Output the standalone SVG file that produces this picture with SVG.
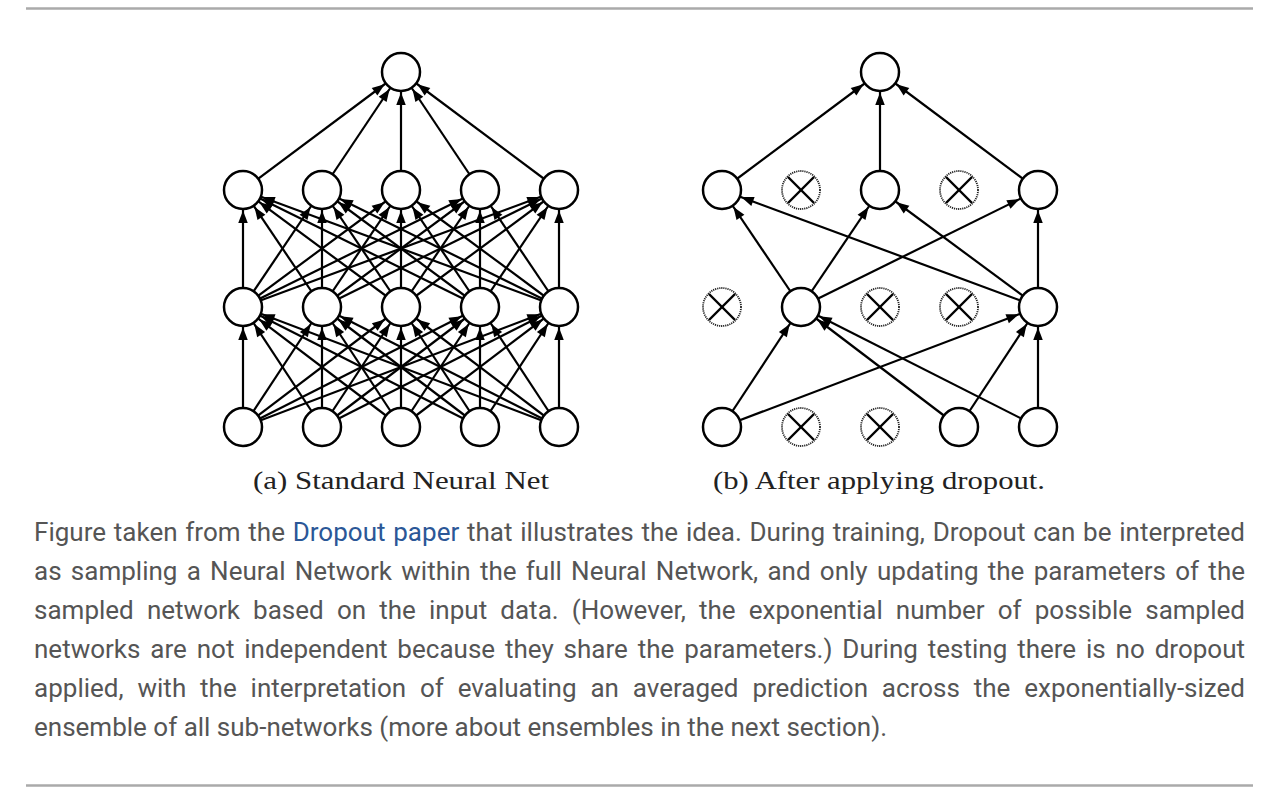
<svg xmlns="http://www.w3.org/2000/svg" width="1283" height="803" viewBox="0 0 1283 803">
<style>
.e{stroke:#000;stroke-width:2.2;fill:none;marker-end:url(#ah)}
.n{fill:#fff;stroke:#000;stroke-width:2.5}
.d{fill:#fff;stroke:#222;stroke-width:1.8;stroke-dasharray:1.2 0.9}
.x{stroke:#000;stroke-width:2.4}
.cap{font-family:"Liberation Serif","DejaVu Serif",serif;font-size:26px;fill:#222}
.p{font-family:Roboto,"Noto Sans",sans-serif;font-size:26px;fill:#555}
.rule{stroke:#aaa;stroke-width:2.5}
</style>
<defs>
<marker id="ah" markerUnits="userSpaceOnUse" markerWidth="13" markerHeight="10" refX="33" refY="4.75" orient="auto" overflow="visible">
<path d="M0,0 L12.5,4.75 L0,9.5 z" fill="#000"/>
</marker>
<g id="dx"><circle class="d" r="19"/><line class="x" x1="-13" y1="-13" x2="13" y2="13"/><line class="x" x1="-13" y1="13" x2="13" y2="-13"/></g>
</defs>
<rect width="1283" height="803" fill="#fff"/>
<line class="rule" x1="26" y1="8.5" x2="1253" y2="8.5"/>
<line class="rule" x1="26" y1="785.5" x2="1253" y2="785.5"/>

<g id="connectors-a">
<line class="e" x1="243" y1="427" x2="243" y2="307"/><line class="e" x1="243" y1="427" x2="322" y2="307"/><line class="e" x1="243" y1="427" x2="401" y2="307"/><line class="e" x1="243" y1="427" x2="480" y2="307"/><line class="e" x1="243" y1="427" x2="559" y2="307"/>
<line class="e" x1="322" y1="427" x2="243" y2="307"/><line class="e" x1="322" y1="427" x2="322" y2="307"/><line class="e" x1="322" y1="427" x2="401" y2="307"/><line class="e" x1="322" y1="427" x2="480" y2="307"/><line class="e" x1="322" y1="427" x2="559" y2="307"/>
<line class="e" x1="401" y1="427" x2="243" y2="307"/><line class="e" x1="401" y1="427" x2="322" y2="307"/><line class="e" x1="401" y1="427" x2="401" y2="307"/><line class="e" x1="401" y1="427" x2="480" y2="307"/><line class="e" x1="401" y1="427" x2="559" y2="307"/>
<line class="e" x1="480" y1="427" x2="243" y2="307"/><line class="e" x1="480" y1="427" x2="322" y2="307"/><line class="e" x1="480" y1="427" x2="401" y2="307"/><line class="e" x1="480" y1="427" x2="480" y2="307"/><line class="e" x1="480" y1="427" x2="559" y2="307"/>
<line class="e" x1="559" y1="427" x2="243" y2="307"/><line class="e" x1="559" y1="427" x2="322" y2="307"/><line class="e" x1="559" y1="427" x2="401" y2="307"/><line class="e" x1="559" y1="427" x2="480" y2="307"/><line class="e" x1="559" y1="427" x2="559" y2="307"/>
<line class="e" x1="243" y1="307" x2="243" y2="190"/><line class="e" x1="243" y1="307" x2="322" y2="190"/><line class="e" x1="243" y1="307" x2="401" y2="190"/><line class="e" x1="243" y1="307" x2="480" y2="190"/><line class="e" x1="243" y1="307" x2="559" y2="190"/>
<line class="e" x1="322" y1="307" x2="243" y2="190"/><line class="e" x1="322" y1="307" x2="322" y2="190"/><line class="e" x1="322" y1="307" x2="401" y2="190"/><line class="e" x1="322" y1="307" x2="480" y2="190"/><line class="e" x1="322" y1="307" x2="559" y2="190"/>
<line class="e" x1="401" y1="307" x2="243" y2="190"/><line class="e" x1="401" y1="307" x2="322" y2="190"/><line class="e" x1="401" y1="307" x2="401" y2="190"/><line class="e" x1="401" y1="307" x2="480" y2="190"/><line class="e" x1="401" y1="307" x2="559" y2="190"/>
<line class="e" x1="480" y1="307" x2="243" y2="190"/><line class="e" x1="480" y1="307" x2="322" y2="190"/><line class="e" x1="480" y1="307" x2="401" y2="190"/><line class="e" x1="480" y1="307" x2="480" y2="190"/><line class="e" x1="480" y1="307" x2="559" y2="190"/>
<line class="e" x1="559" y1="307" x2="243" y2="190"/><line class="e" x1="559" y1="307" x2="322" y2="190"/><line class="e" x1="559" y1="307" x2="401" y2="190"/><line class="e" x1="559" y1="307" x2="480" y2="190"/><line class="e" x1="559" y1="307" x2="559" y2="190"/>
<line class="e" x1="243" y1="190" x2="401" y2="72"/><line class="e" x1="322" y1="190" x2="401" y2="72"/><line class="e" x1="401" y1="190" x2="401" y2="72"/><line class="e" x1="480" y1="190" x2="401" y2="72"/><line class="e" x1="559" y1="190" x2="401" y2="72"/>
</g>

<g id="connectors-b">
<line class="e" x1="722" y1="190" x2="880" y2="72"/><line class="e" x1="880" y1="190" x2="880" y2="72"/><line class="e" x1="1038" y1="190" x2="880" y2="72"/>
<line class="e" x1="801" y1="307" x2="722" y2="190"/><line class="e" x1="801" y1="307" x2="880" y2="190"/><line class="e" x1="801" y1="307" x2="1038" y2="190"/>
<line class="e" x1="1038" y1="307" x2="722" y2="190"/><line class="e" x1="1038" y1="307" x2="880" y2="190"/><line class="e" x1="1038" y1="307" x2="1038" y2="190"/>
<line class="e" x1="722" y1="427" x2="801" y2="307"/><line class="e" x1="722" y1="427" x2="1038" y2="307"/>
<line class="e" x1="959" y1="427" x2="801" y2="307"/><line class="e" x1="959" y1="427" x2="1038" y2="307"/>
<line class="e" x1="1038" y1="427" x2="801" y2="307"/><line class="e" x1="1038" y1="427" x2="1038" y2="307"/>
</g>

<g id="net-a">
<g id="a-out"><circle class="n" cx="401" cy="72" r="19"/></g>
<g id="a-h2"><circle class="n" cx="243" cy="190" r="19"/><circle class="n" cx="322" cy="190" r="19"/><circle class="n" cx="401" cy="190" r="19"/><circle class="n" cx="480" cy="190" r="19"/><circle class="n" cx="559" cy="190" r="19"/></g>
<g id="a-h1"><circle class="n" cx="243" cy="307" r="19"/><circle class="n" cx="322" cy="307" r="19"/><circle class="n" cx="401" cy="307" r="19"/><circle class="n" cx="480" cy="307" r="19"/><circle class="n" cx="559" cy="307" r="19"/></g>
<g id="a-in"><circle class="n" cx="243" cy="427" r="19"/><circle class="n" cx="322" cy="427" r="19"/><circle class="n" cx="401" cy="427" r="19"/><circle class="n" cx="480" cy="427" r="19"/><circle class="n" cx="559" cy="427" r="19"/></g>
</g>

<g id="net-b">
<g id="b-out"><circle class="n" cx="880" cy="72" r="19"/></g>
<g id="b-h2"><circle class="n" cx="722" cy="190" r="19"/><use href="#dx" x="801" y="190"/><circle class="n" cx="880" cy="190" r="19"/><use href="#dx" x="959" y="190"/><circle class="n" cx="1038" cy="190" r="19"/></g>
<g id="b-h1"><use href="#dx" x="722" y="307"/><circle class="n" cx="801" cy="307" r="19"/><use href="#dx" x="880" y="307"/><use href="#dx" x="959" y="307"/><circle class="n" cx="1038" cy="307" r="19"/></g>
<g id="b-in"><circle class="n" cx="722" cy="427" r="19"/><use href="#dx" x="801" y="427"/><use href="#dx" x="880" y="427"/><circle class="n" cx="959" cy="427" r="19"/><circle class="n" cx="1038" cy="427" r="19"/></g>
</g>

<g id="captions">
<text class="cap" x="253" y="489" textLength="296" lengthAdjust="spacingAndGlyphs">(a) Standard Neural Net</text>
<text class="cap" x="713" y="489" textLength="332" lengthAdjust="spacingAndGlyphs">(b) After applying dropout.</text>
</g>

<g id="paragraph">
<text class="p" x="34" y="541" word-spacing="1.3" textLength="1211" lengthAdjust="spacing">Figure taken from the <tspan fill="#2b5797">Dropout paper</tspan> that illustrates the idea. During training, Dropout can be interpreted</text>
<text class="p" x="34" y="580" word-spacing="2.8" textLength="1211" lengthAdjust="spacing">as sampling a Neural Network within the full Neural Network, and only updating the parameters of the</text>
<text class="p" x="34" y="619" word-spacing="6.7" textLength="1211" lengthAdjust="spacing">sampled network based on the input data. (However, the exponential number of possible sampled</text>
<text class="p" x="34" y="658" word-spacing="3.4" textLength="1211" lengthAdjust="spacing">networks are not independent because they share the parameters.) During testing there is no dropout</text>
<text class="p" x="34" y="697" word-spacing="7.4" textLength="1211" lengthAdjust="spacing">applied, with the interpretation of evaluating an averaged prediction across the exponentially-sized</text>
<text class="p" x="34" y="736">ensemble of all sub-networks (more about ensembles in the next section).</text>
</g>
</svg>
